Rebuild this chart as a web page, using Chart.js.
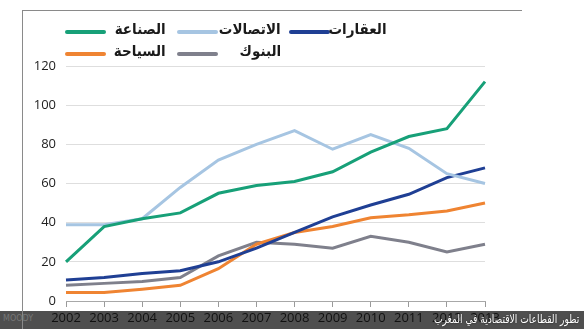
<!DOCTYPE html>
<html>
<head>
<meta charset="utf-8">
<script src="https://cdn.jsdelivr.net/npm/chart.js@4.4.1/dist/chart.umd.min.js"></script>
<style>
    body { margin: 0; background: #fff; }
    #wrap { position: relative; width: 584px; height: 329px; overflow: hidden; background: #fff; }
    #band { position: absolute; left: 0; top: 311px; width: 584px; height: 18px; background: #4f4f4f; }
    #frameTop { position: absolute; left: 22px; top: 10px; width: 500px; height: 1px; background: #8a8a8a; }
    #frameLeft { position: absolute; left: 22px; top: 10px; width: 1px; height: 319px; background: #8a8a8a; }
    #chartBox { position: absolute; left: 0; top: 0; width: 584px; height: 329px; }
    .leg { position: absolute; font-family: "DejaVu Sans", sans-serif; font-weight: bold; font-size: 15px; line-height: 17px; color: #1a1a1a; white-space: nowrap; transform: scaleX(0.9); transform-origin: right center; }
    .legLine { position: absolute; width: 41px; height: 4px; border-radius: 2px; }
    #moody { position: absolute; left: 3px; top: 314px; font-family: "DejaVu Sans", sans-serif; font-size: 8px; color: #777; }
    #caption { position: absolute; right: 5px; top: 312px; font-family: "DejaVu Sans", sans-serif; font-size: 12px; color: #fff; direction: rtl; white-space: nowrap; transform: scaleX(0.76); transform-origin: right center; text-shadow: 0 0 2px #222; }
</style>
</head>
<body>
<div id="wrap">
    <div id="band"></div>
    <div id="frameTop"></div>
    <div id="frameLeft"></div>
    <div id="moody">MOODY</div>
    <div id="chartBox"><canvas id="trendChart" width="584" height="329"></canvas></div>
    <div id="legend"></div>
    <div id="caption">تطور القطاعات الاقتصادية في المغرب</div>
</div>
<script>
const years = ["2002", "2003", "2004", "2005", "2006", "2007", "2008", "2009", "2010", "2011", "2012", "2013"];
const industry = [20, 38, 42, 45, 55, 59, 61, 66, 76, 84, 88, 112];
const telecom = [39, 39, 42, 58, 72, 80, 87, 77.5, 85, 78, 65, 60];
const realEstate = [10.7, 12, 14, 15.5, 20, 27, 35, 43, 49, 54.5, 63, 68];
const tourism = [4.3, 4.3, 6, 8, 16.5, 29, 35, 38, 42.5, 44, 46, 50];
const banks = [8, 9, 10, 12, 23, 30, 29, 27, 33, 30, 25, 29];
const yTicks = [0, 20, 40, 60, 80, 100, 120];

const series = [
    { label: "الصناعة", data: industry, color: "#17a078", col: 0, row: 0 },
    { label: "الاتصالات", data: telecom, color: "#a6c5e2", col: 1, row: 0 },
    { label: "العقارات", data: realEstate, color: "#1f3f94", col: 2, row: 0 },
    { label: "السياحة", data: tourism, color: "#ef8432", col: 0, row: 1 },
    { label: "البنوك", data: banks, color: "#7f808c", col: 1, row: 1 }
];

// legend laid out as a small grid like the original
const legendEl = document.getElementById("legend");
const textRight = [166, 281, 387];
series.forEach(s => {
    const lineY = s.row === 0 ? 30 : 52;
    const line = document.createElement("div");
    line.className = "legLine";
    line.style.left = (65 + 112 * s.col) + "px";
    line.style.top = lineY + "px";
    line.style.background = s.color;
    legendEl.appendChild(line);

    const txt = document.createElement("div");
    txt.className = "leg";
    txt.textContent = s.label;
    txt.style.right = (584 - textRight[s.col]) + "px";
    txt.style.top = (lineY - 9) + "px";
    legendEl.appendChild(txt);
});

new Chart(document.getElementById("trendChart"), {
    type: "line",
    data: {
        labels: years,
        datasets: series.map(s => ({
            label: s.label,
            data: s.data,
            borderColor: s.color,
            backgroundColor: s.color,
            borderWidth: 3,
            pointRadius: 0,
            tension: 0,
            fill: false
        }))
    },
    options: {
        responsive: false,
        animation: false,
        layout: { padding: { top: 66, right: 99, left: 0, bottom: 0 } },
        plugins: { legend: { display: false }, tooltip: { enabled: false } },
        scales: {
            x: {
                offset: false,
                grid: { display: true, drawOnChartArea: false, drawTicks: true, tickLength: 6, color: "#9a9a9a" },
                border: { display: true, color: "#a8a8a8" },
                ticks: { color: "#111", padding: 3, font: { family: "Open Sans", size: 13 }, maxRotation: 0, autoSkip: false },
                afterFit: scale => { scale.height = 28; }
            },
            y: {
                min: 0,
                max: 120,
                afterBuildTicks: scale => { scale.ticks = yTicks.map(v => ({ value: v })); },
                grid: { color: "#dedede", drawTicks: false },
                border: { display: false },
                ticks: { color: "#222", padding: 10, font: { family: "Open Sans", size: 13 } },
                afterFit: scale => { scale.width = 66; }
            }
        }
    }
});
</script>
</body>
</html>
